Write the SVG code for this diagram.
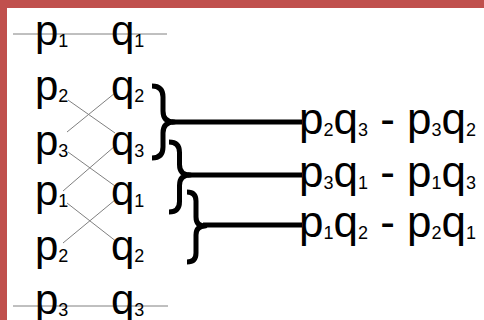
<svg xmlns="http://www.w3.org/2000/svg" width="484" height="320" viewBox="0 0 484 320">
<style>
  text { font-family: "Liberation Sans", Arial, sans-serif; font-size: 42px; fill: #000; }
  .r { font-size: 44px; }
  .s { font-size: 18px; }
  .thin { stroke: #808080; stroke-width: 1; fill: none; }
  .brace { stroke: #000; stroke-width: 5; fill: none; stroke-linejoin: round; }
  .bar { stroke: #000; stroke-width: 5; }
</style>
<rect x="0" y="0" width="484" height="320" fill="#ffffff"/>
<rect x="0" y="0" width="484" height="8" fill="#c0504d"/>
<rect x="0" y="0" width="7" height="320" fill="#c0504d"/>

<g id="connectors">
  <line class="thin" x1="13" y1="34" x2="167" y2="34"/>
  <line class="thin" x1="13" y1="306" x2="168" y2="306"/>
  <line class="thin" x1="68" y1="100" x2="115" y2="133"/>
  <line class="thin" x1="115" y1="93" x2="67" y2="132"/>
  <line class="thin" x1="68" y1="152" x2="115" y2="186"/>
  <line class="thin" x1="115" y1="146" x2="63" y2="191"/>
  <line class="thin" x1="67" y1="203" x2="117" y2="242"/>
  <line class="thin" x1="115" y1="200" x2="63" y2="243"/>
  <path class="brace" d="M152,86 Q163,86 163,97 L163,111 Q163,122 174,122 Q163,122 163,133 L163,147 Q163,158 152,158"/>
  <line class="bar" x1="172" y1="122" x2="302" y2="122"/>
  <path class="brace" d="M169,142 Q179.5,142 179.5,152.5 L179.5,164.5 Q179.5,175 190,175 Q179.5,175 179.5,185.5 L179.5,201.5 Q179.5,212 169,212"/>
  <line class="bar" x1="188" y1="175" x2="302" y2="175"/>
  <path class="brace" d="M187,192 Q196,192 196,201 L196,217 Q196,226 205,226 Q196,226 196,235 L196,253 Q196,262 187,262"/>
  <line class="bar" x1="203" y1="225" x2="302" y2="225"/>
</g>

<g id="row1"><text x="35" y="45">p<tspan class="s" dy="2">1</tspan></text><text x="111" y="45">q<tspan class="s" dy="2">1</tspan></text></g>
<g id="row2"><text x="35" y="100">p<tspan class="s" dy="2">2</tspan></text><text x="111" y="100">q<tspan class="s" dy="2">2</tspan></text></g>
<g id="row3"><text x="35" y="155">p<tspan class="s" dy="2">3</tspan></text><text x="111" y="155">q<tspan class="s" dy="2">3</tspan></text></g>
<g id="row4"><text x="35" y="205">p<tspan class="s" dy="2">1</tspan></text><text x="111" y="205">q<tspan class="s" dy="2">1</tspan></text></g>
<g id="row5"><text x="35" y="260">p<tspan class="s" dy="2">2</tspan></text><text x="111" y="260">q<tspan class="s" dy="2">2</tspan></text></g>
<g id="row6"><text x="35" y="314">p<tspan class="s" dy="2">3</tspan></text><text x="111" y="314">q<tspan class="s" dy="2">3</tspan></text></g>

<g id="result1"><text class="r" x="299" y="134">p<tspan class="s" dy="2">2</tspan><tspan dy="-2">q</tspan><tspan class="s" dy="2">3</tspan><tspan dy="-2"> - p</tspan><tspan class="s" dy="2">3</tspan><tspan dy="-2">q</tspan><tspan class="s" dy="2">2</tspan></text></g>
<g id="result2"><text class="r" x="299" y="187">p<tspan class="s" dy="2">3</tspan><tspan dy="-2">q</tspan><tspan class="s" dy="2">1</tspan><tspan dy="-2"> - p</tspan><tspan class="s" dy="2">1</tspan><tspan dy="-2">q</tspan><tspan class="s" dy="2">3</tspan></text></g>
<g id="result3"><text class="r" x="299" y="237">p<tspan class="s" dy="2">1</tspan><tspan dy="-2">q</tspan><tspan class="s" dy="2">2</tspan><tspan dy="-2"> - p</tspan><tspan class="s" dy="2">2</tspan><tspan dy="-2">q</tspan><tspan class="s" dy="2">1</tspan></text></g>
</svg>
